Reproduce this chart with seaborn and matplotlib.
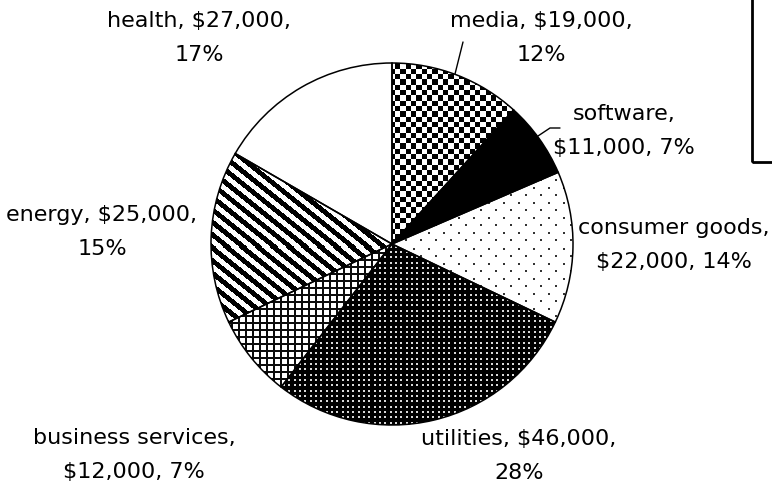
import numpy as np
import matplotlib
matplotlib.use("Agg")
import matplotlib.pyplot as plt
from matplotlib.patches import Rectangle
import seaborn as sns

# Investment by sector
sectors = ["media", "software", "consumer goods", "utilities",
           "business services", "energy", "health"]
amounts = [19000, 11000, 22000, 46000, 12000, 25000, 27000]

sns.set_theme(style="white")
plt.rcParams["font.family"] = ["DejaVu Sans"]

W, H = 772, 494
fig = plt.figure(figsize=(W / 100, H / 100), dpi=100)
ax = fig.add_axes([0, 0, 1, 1])

# pie drawn in pixel-like data units (origin bottom-left)
cx, cy, R = 392, H - 244, 181
wedges, _ = ax.pie(amounts, startangle=90, counterclock=False,
                   center=(cx, cy), radius=R,
                   wedgeprops=dict(facecolor="none", edgecolor="black",
                                   linewidth=1.1, zorder=3))
ax.set_xlim(0, W)
ax.set_ylim(0, H)
ax.set_aspect("equal")
ax.axis("off")

# monochrome fill patterns, defined on the pixel grid (row from top)
r, c = np.indices((H, W)).astype(float)


def checker(s=16 / 3):
    return np.where((np.floor(c / s) + np.floor(r / s)) % 2 == 0, 0.0, 1.0)


def solid():
    return np.zeros((H, W))


def sparse_dots(py=7.5, px=15.0):
    k = np.floor(r / py)
    shift = (k % 2) * (px / 2)
    dot = ((r % py) < 1.6) & (((c + shift) % px) < 1.6)
    return np.where(dot, 0.2, 1.0)


def dense_dots(p=16 / 3):
    dot = ((r % p) < 1.8) & ((c % p) < 1.8)
    return np.where(dot, 0.85, 0.0)


def grid(p=7.0, w=2.0):
    line = ((r % p) < w) | ((c % p) < w)
    return np.where(line, 0.05, 1.0)


def stripes(m=0.8, p=12.5, frac=0.5):
    return np.where(((r - m * c) % p) < p * frac, 0.0, 1.0)


def blank():
    return np.ones((H, W))


patterns = [checker(), solid(), sparse_dots(), dense_dots(),
            grid(), stripes(), blank()]

for wedge, pat in zip(wedges, patterns):
    im = ax.imshow(pat, cmap="gray", vmin=0, vmax=1, origin="upper",
                   extent=(0, W, 0, H), interpolation="nearest", zorder=2)
    im.set_clip_path(wedge)

ax.set_xlim(0, W)
ax.set_ylim(0, H)

# data labels
total = sum(amounts)
label_pos = {
    "media": (541, 38),
    "software": (624, 131),
    "consumer goods": (674, 245),
    "utilities": (519, 456),
    "business services": (134, 455),
    "energy": (102, 232),
    "health": (199, 38),
}
line_breaks = {
    "media": "{name}, {amt},\n{pct}",
    "software": "{name},\n{amt}, {pct}",
    "consumer goods": "{name},\n{amt}, {pct}",
    "utilities": "{name}, {amt},\n{pct}",
    "business services": "{name},\n{amt}, {pct}",
    "energy": "{name}, {amt},\n{pct}",
    "health": "{name}, {amt},\n{pct}",
}
for name, amt in zip(sectors, amounts):
    pct = f"{round(amt / total * 100)}%"
    txt = line_breaks[name].format(name=name, amt=f"${amt:,}", pct=pct)
    x, y = label_pos[name]
    ax.text(x, H - y, txt, ha="center", va="center", multialignment="center",
            fontsize=16, color="black", linespacing=1.9, zorder=5)

# leader lines
ax.plot([455, 463], [H - 74, H - 42], color="black", lw=1, zorder=4)
ax.plot([538, 550, 560], [H - 136, H - 128, H - 128], color="black", lw=1,
        zorder=4)

# frame at the upper right
ax.add_patch(Rectangle((752, H - 162), 60, 200, fill=False,
                       edgecolor="black", linewidth=2, clip_on=False,
                       zorder=4))

fig.savefig("out.png", dpi=100)
